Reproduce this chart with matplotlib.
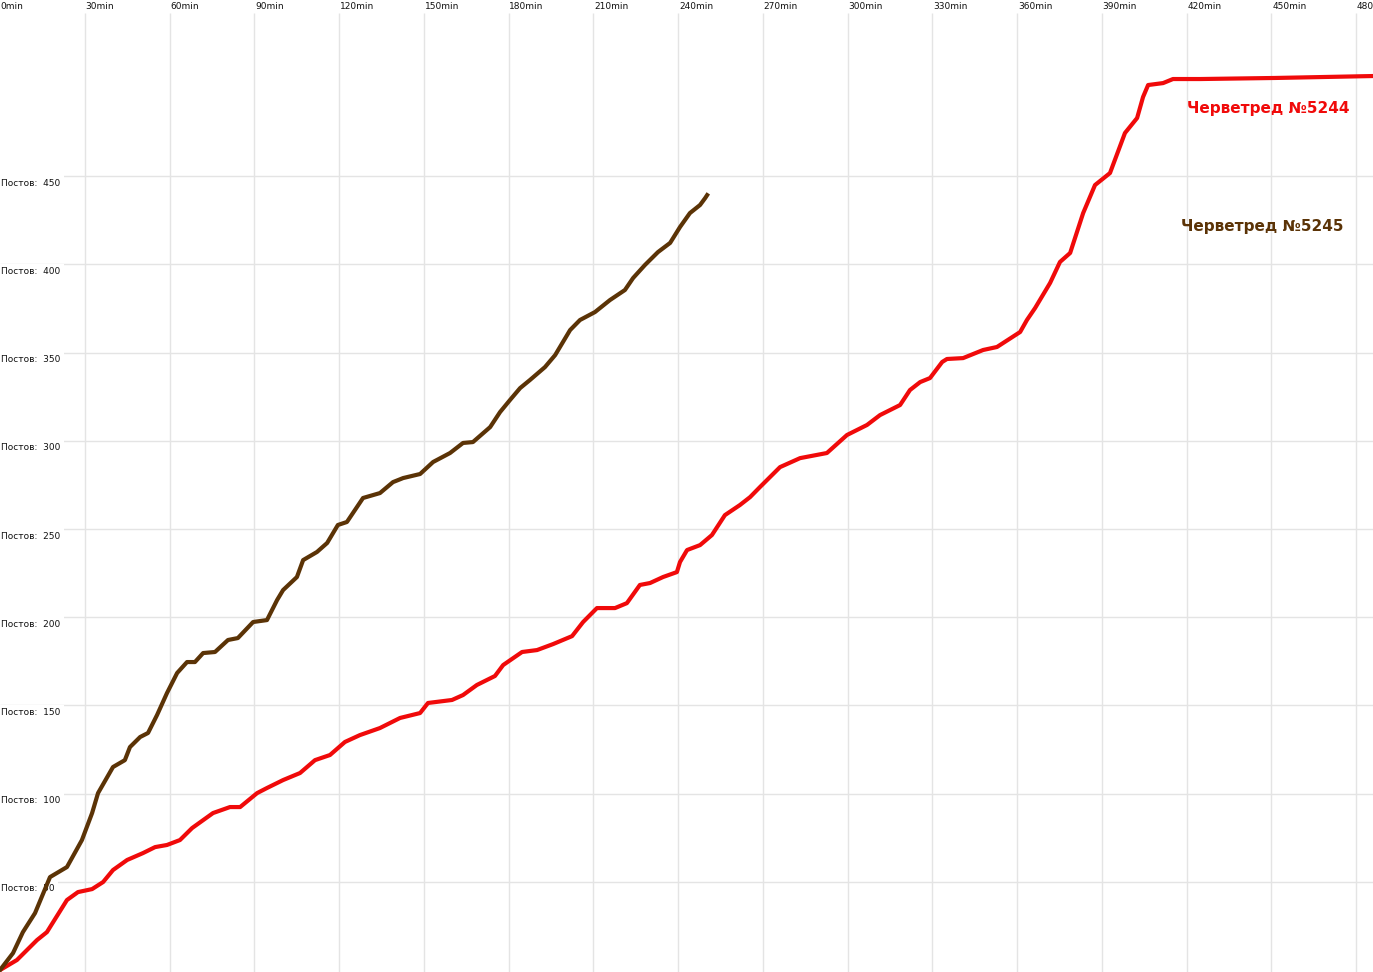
import matplotlib
matplotlib.use("Agg")
import matplotlib.pyplot as plt

# Series 5244 (red): minutes, posts
red_t = [0, 6.0, 13.1, 16.6, 23.7, 27.6, 32.6, 36.5, 40.0, 45.0, 50.6, 54.9, 59.1, 63.7, 68.0,
         75.4, 81.4, 85.0, 91.0, 94.5, 100.2, 106.2, 111.5, 116.8, 122.1, 127.4, 134.5, 141.6,
         148.7, 151.5, 160.0, 163.9, 168.8, 175.2, 178.1, 184.8, 190.1, 195.8, 202.5, 206.4,
         211.3, 217.7, 221.9, 226.5, 230.1, 234.7, 239.6, 240.7, 243.2, 247.8, 252.0, 256.6,
         261.9, 265.5, 269.0, 276.1, 283.2, 292.7, 299.8, 306.9, 311.5, 318.6, 322.1, 325.7,
         329.2, 333.5, 335.2, 340.9, 348.0, 352.9, 361.1, 363.5, 366.4, 371.7, 375.2, 378.8,
         383.4, 387.6, 392.9, 398.2, 402.5, 404.6, 406.4, 411.7, 415.2, 424.8, 451.3, 486.0]
red_v = [0, 5.7, 17.0, 21.5, 39.7, 44.2, 45.9, 49.9, 56.7, 62.4, 66.3, 69.7, 70.9, 73.7, 80.5,
         89.0, 92.4, 92.4, 100.3, 103.2, 107.7, 111.7, 119.0, 121.9, 129.3, 133.2, 137.2, 142.9,
         145.7, 151.4, 153.1, 155.9, 161.6, 166.7, 172.9, 180.3, 181.4, 184.8, 189.3, 197.3,
         205.2, 205.2, 208.0, 218.3, 219.4, 222.8, 225.6, 231.3, 238.1, 240.9, 246.6, 257.9,
         263.6, 268.1, 273.8, 285.1, 290.2, 293.1, 303.3, 309.0, 314.6, 320.3, 328.8, 333.3,
         335.6, 344.7, 346.4, 346.9, 351.5, 353.2, 361.7, 368.5, 375.3, 389.5, 401.4, 406.5,
         429.1, 445.0, 451.8, 474.5, 483.0, 494.9, 501.7, 502.8, 505.1, 505.1, 505.7, 506.8]

# Series 5245 (brown)
brown_t = [0, 4.6, 8.1, 12.4, 17.7, 23.7, 29.0, 32.6, 34.7, 40.0, 44.2, 46.0, 49.6, 52.4, 55.6,
           59.1, 62.7, 66.2, 69.0, 71.9, 76.1, 80.7, 84.2, 89.6, 94.5, 98.1, 100.2, 105.1, 107.3,
           112.2, 115.8, 119.6, 122.8, 128.5, 134.5, 139.1, 142.7, 148.7, 153.3, 159.3, 163.9,
           167.4, 173.5, 177.0, 180.5, 184.1, 187.6, 192.9, 196.5, 201.8, 205.3, 210.6, 215.9,
           221.2, 224.1, 228.3, 232.9, 237.2, 240.7, 244.2, 247.8, 249.6, 250.3]
brown_v = [0, 9.6, 21.5, 32.3, 52.7, 58.4, 73.7, 89.0, 100.3, 115.1, 119.0, 126.4, 132.1, 134.4,
           144.6, 157.0, 168.4, 174.6, 174.6, 179.7, 180.3, 187.1, 188.2, 197.3, 198.4, 209.8,
           215.4, 222.8, 232.4, 237.0, 242.1, 252.3, 254.0, 267.6, 270.4, 276.6, 278.9, 281.2,
           288.0, 293.1, 298.8, 299.3, 307.8, 316.3, 323.1, 329.9, 334.5, 341.8, 348.6, 362.8,
           368.5, 373.0, 379.8, 385.5, 392.3, 399.7, 407.0, 412.2, 421.2, 429.1, 433.7, 437.6, 439.3]

x_ticks = list(range(0, 481, 30))
x_labels = [f"{m}min" for m in x_ticks]
y_ticks = list(range(50, 451, 50))
y_labels = [f"Постов:  {v}" for v in y_ticks]

series_names = ["Черветред №5244", "Черветред №5245"]
red_c = "#f00a0a"
brown_c = "#5b3306"

fig = plt.figure(figsize=(13.73, 9.72), dpi=100)
ax = fig.add_axes([0, 0, 1, 1])
ax.set_xlim(0, 486.0)
ax.set_ylim(-1.1, 549.9)
ax.axis("off")

grid_c = "#e4e4e4"
for t in x_ticks[1:]:
    ax.vlines(t, -1.1, 542.5, color=grid_c, lw=1.0, zorder=1)
for v in y_ticks:
    ax.hlines(v, 0, 486, color=grid_c, lw=1.0, zorder=1)

for t, lab in zip(x_ticks, x_labels):
    ax.text(t + 0.3, 546.0, lab, fontsize=6.5, ha="left", va="center", color="#111111", zorder=3)
for v, lab in zip(y_ticks, y_labels):
    ax.text(0.3, v - 4.0, lab, fontsize=6.5, ha="left", va="center", color="#111111", zorder=3,
            bbox=dict(facecolor="white", edgecolor="none", pad=2.5))

ax.plot(red_t, red_v, color=red_c, lw=3.0, zorder=5, solid_joinstyle="round")
ax.plot(brown_t, brown_v, color=brown_c, lw=3.0, zorder=5, solid_joinstyle="round")

ax.text(420.2, 488.5, series_names[0], fontsize=11, fontweight="bold", color=red_c,
        ha="left", va="center", zorder=6)
ax.text(418.1, 421.6, series_names[1], fontsize=11, fontweight="bold", color=brown_c,
        ha="left", va="center", zorder=6)

fig.savefig("out.png", dpi=100)
